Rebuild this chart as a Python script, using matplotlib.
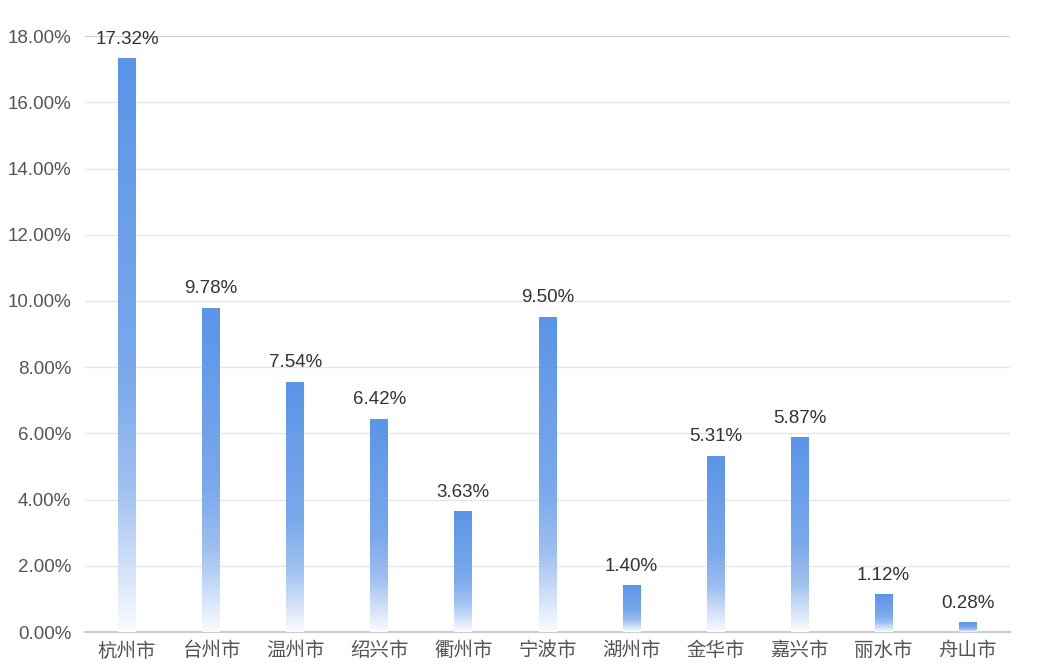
import numpy as np
import matplotlib.pyplot as plt
from matplotlib.colors import LinearSegmentedColormap
from matplotlib.ticker import FuncFormatter

plt.rcParams['font.family'] = ['Liberation Sans', 'Noto Sans CJK SC', 'DejaVu Sans']

cities = ['杭州市', '台州市', '温州市', '绍兴市', '衢州市', '宁波市',
          '湖州市', '金华市', '嘉兴市', '丽水市', '舟山市']
shares = [17.32, 9.78, 7.54, 6.42, 3.63, 9.50, 1.40, 5.31, 5.87, 1.12, 0.28]

fig = plt.figure(figsize=(10.42, 6.69), dpi=100)
ax = fig.add_axes([0.0816, 0.0553, 0.8874, 0.8907])

# vertical fade: solid blue at top -> white at the base
cmap = LinearSegmentedColormap.from_list(
    'fade', [(0.0, '#5b95e8'), (0.55, '#7aa9ec'), (0.75, '#9fc0f0'), (1.0, '#fafcff')])
grad = np.linspace(0, 1, 256).reshape(-1, 1)

width = 0.21
x = np.arange(len(cities))
for i, v in enumerate(shares):
    ax.imshow(grad, cmap=cmap, aspect='auto', origin='upper',
              extent=(i - width / 2, i + width / 2, 0, v), zorder=3)
    ax.annotate(f'{v:.2f}%', (i, v), xytext=(0, 8), textcoords='offset points',
                ha='center', va='bottom', fontsize=13.5, color='#333333')

ax.set_xlim(-0.5, len(cities) - 0.5)
ax.set_ylim(0, 18)
ax.set_yticks(np.arange(0, 18.1, 2))
ax.yaxis.set_major_formatter(FuncFormatter(lambda v, p: f'{v:.2f}%'))
ax.set_xticks(x)
ax.set_xticklabels(cities)

ax.grid(axis='y', color='#e6e6e6', linewidth=1, zorder=0)
ax.set_axisbelow(True)
for s in ['top', 'right', 'left']:
    ax.spines[s].set_visible(False)
ax.spines['bottom'].set_color('#cccccc')
ax.spines['bottom'].set_linewidth(1.5)
ax.tick_params(axis='both', length=0, colors='#555555')
ax.tick_params(axis='x', pad=7, labelsize=14)
ax.tick_params(axis='y', pad=10, labelsize=13.5)
ax.axhline(18, color='#cccccc', linewidth=1.2, zorder=1)

fig.savefig('out.png', dpi=100)
